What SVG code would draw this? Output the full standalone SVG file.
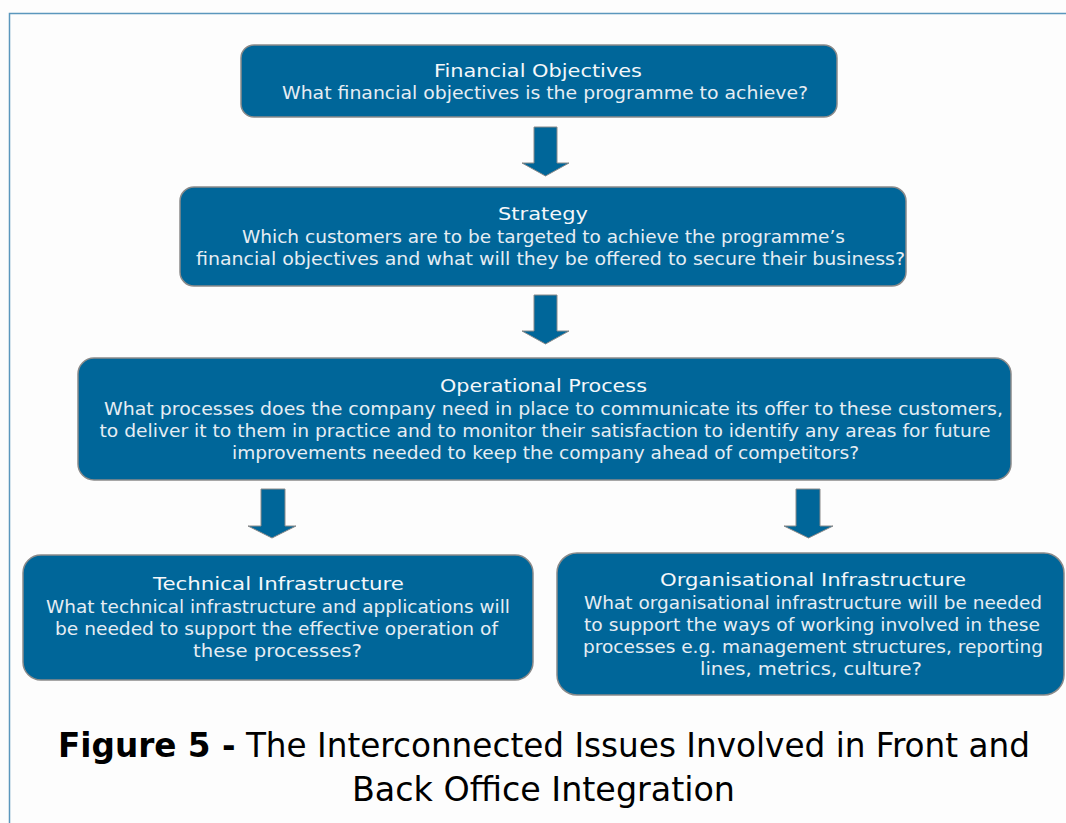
<svg xmlns="http://www.w3.org/2000/svg" width="1066" height="823" viewBox="0 0 1066 823">
<style>
.box{fill:#006699;stroke:#8a8a8a;stroke-width:1.5}
.t{font-family:"DejaVu Sans",Verdana,sans-serif;font-size:18px;fill:#e6edf3;text-anchor:middle}
.h{fill:#f4f7fa;font-weight:500}
.arr{fill:#006699;stroke:#8a8a8a;stroke-width:1}
.cap{font-family:"DejaVu Sans Condensed","DejaVu Sans",sans-serif;font-size:34px;fill:#000;text-anchor:middle}
</style>
<rect width="1066" height="823" fill="#fdfdfd"/>
<path d="M9.5 823 V13.5 H1066" fill="none" stroke="#5b97bd" stroke-width="1.5"/>
<g id="financial">
<rect class="box" x="241" y="45" width="596" height="72" rx="13"/>
<text class="t h" x="538" y="77" textLength="208" lengthAdjust="spacingAndGlyphs">Financial Objectives</text>
<text class="t" x="545" y="99" textLength="526" lengthAdjust="spacingAndGlyphs">What financial objectives is the programme to achieve?</text>
</g>
<g id="strategy">
<rect class="box" x="180" y="187" width="726" height="99" rx="14"/>
<text class="t h" x="543" y="220" textLength="90" lengthAdjust="spacingAndGlyphs">Strategy</text>
<text class="t" x="543.5" y="243" textLength="603" lengthAdjust="spacingAndGlyphs">Which customers are to be targeted to achieve the programme’s</text>
<text class="t" x="550.5" y="265" textLength="709" lengthAdjust="spacingAndGlyphs">financial objectives and what will they be offered to secure their business?</text>
</g>
<g id="operational">
<rect class="box" x="78" y="358" width="933" height="122" rx="16"/>
<text class="t h" x="543.5" y="392" textLength="207" lengthAdjust="spacingAndGlyphs">Operational Process</text>
<text class="t" x="553.5" y="415" textLength="899" lengthAdjust="spacingAndGlyphs">What processes does the company need in place to communicate its offer to these customers,</text>
<text class="t" x="545" y="437" textLength="891" lengthAdjust="spacingAndGlyphs">to deliver it to them in practice and to monitor their satisfaction to identify any areas for future</text>
<text class="t" x="545.5" y="459" textLength="627" lengthAdjust="spacingAndGlyphs">improvements needed to keep the company ahead of competitors?</text>
</g>
<g id="technical">
<rect class="box" x="23" y="555" width="510" height="125" rx="18"/>
<text class="t h" x="278.5" y="590" textLength="251" lengthAdjust="spacingAndGlyphs">Technical Infrastructure</text>
<text class="t" x="278" y="613" textLength="464" lengthAdjust="spacingAndGlyphs">What technical infrastructure and applications will</text>
<text class="t" x="276.5" y="635" textLength="443" lengthAdjust="spacingAndGlyphs">be needed to support the effective operation of</text>
<text class="t" x="277.5" y="657" textLength="169" lengthAdjust="spacingAndGlyphs">these processes?</text>
</g>
<g id="organisational">
<rect class="box" x="557" y="553" width="507" height="142" rx="20"/>
<text class="t h" x="813" y="586" textLength="306" lengthAdjust="spacingAndGlyphs">Organisational Infrastructure</text>
<text class="t" x="813" y="609" textLength="458" lengthAdjust="spacingAndGlyphs">What organisational infrastructure will be needed</text>
<text class="t" x="812" y="631" textLength="456" lengthAdjust="spacingAndGlyphs">to support the ways of working involved in these</text>
<text class="t" x="813" y="653" textLength="460" lengthAdjust="spacingAndGlyphs">processes e.g. management structures, reporting</text>
<text class="t" x="811" y="675" textLength="222" lengthAdjust="spacingAndGlyphs">lines, metrics, culture?</text>
</g>
<g id="connectors">
<path class="arr" d="M534 127 H557 V163 H569 L545.5 176 L522 163 H534 Z"/>
<path class="arr" d="M534 295 H557 V331 H569 L545.5 344 L522 331 H534 Z"/>
<path class="arr" d="M261 489 H285 V526 H296 L272 538 L248 526 H261 Z"/>
<path class="arr" d="M796 489 H820 V526 H833 L808.5 538 L784 526 H796 Z"/>
</g>
<g id="caption">
<text class="cap" x="544" y="757" textLength="972" lengthAdjust="spacingAndGlyphs"><tspan font-weight="bold">Figure 5 -</tspan> The Interconnected Issues Involved in Front and</text>
<text class="cap" x="543.5" y="801" textLength="383" lengthAdjust="spacingAndGlyphs">Back Office Integration</text>
</g>
</svg>
